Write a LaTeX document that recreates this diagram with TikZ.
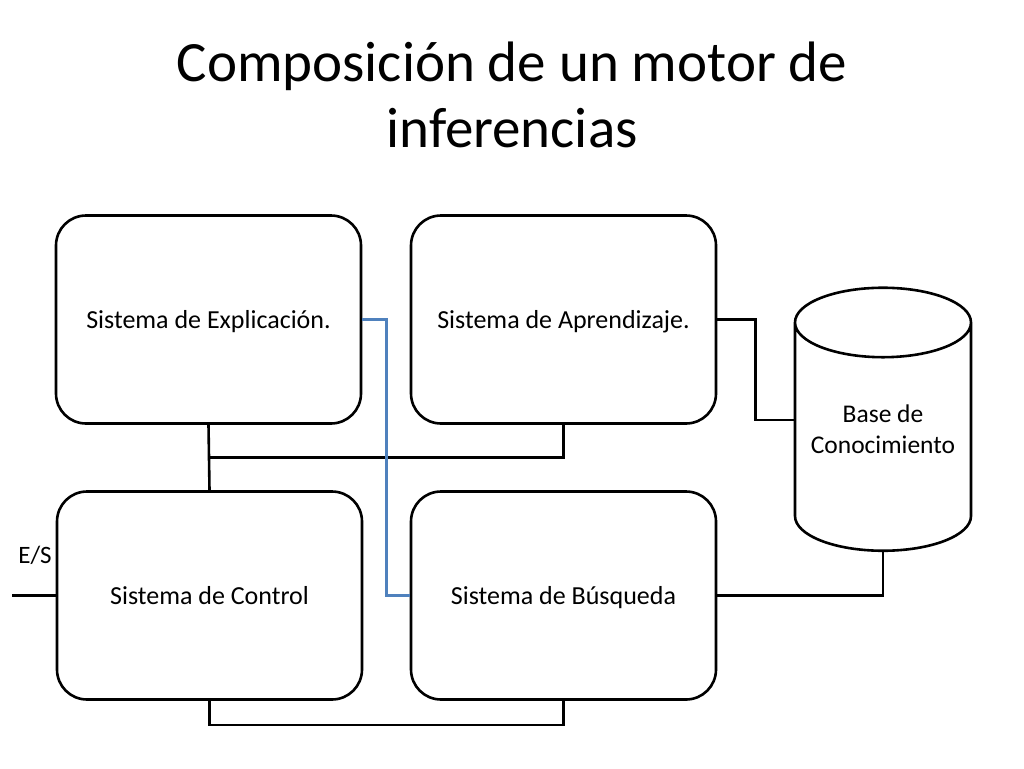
\documentclass[tikz,border=0pt]{standalone}
\usepackage{fontspec}
\setmainfont{Carlito}
\usetikzlibrary{shapes.geometric, calc}
\definecolor{linkblue}{RGB}{79,129,189}

\tikzset{
    bloque/.style={draw, line width=2.6pt, rounded corners=30pt, minimum width=305pt, minimum height=208pt, text height=20pt, text depth=2pt, font=\fontsize{26}{31}\selectfont},
    enlace/.style={line width=2.6pt}
}

\begin{document}
\begin{tikzpicture}[x=1pt, y=-1pt]
    \useasboundingbox (0,0) rectangle (1024,768);
    \node[font=\fontsize{57}{66}\selectfont, align=center] (titulo) at (512,95) {Composición de un motor de\\inferencias};

    \node[bloque] (expl) at (208.5,319.5) {Sistema de Explicación.};
    \node[bloque] (apre) at (563.5,319.5) {Sistema de Aprendizaje.};
    \node[bloque] (ctrl) at (209.5,595.5) {Sistema de Control};
    \node[bloque] (busq) at (563.5,595.5) {Sistema de Búsqueda};
    % cilindro de la base
    \node[draw, line width=2.6pt, cylinder, shape border rotate=90, aspect=0.46, minimum width=176pt, minimum height=263pt, font=\fontsize{25.5}{31}\selectfont] (base) at (883,442) {\raisebox{10.5pt}[\height][\depth]{\begin{tabular}{@{}c@{}}Base de\\Conocimiento\end{tabular}}};

    \coordinate (es) at (12,595.5);
    \node[font=\fontsize{25}{30}\selectfont] (eslabel) at (35,555) {E/S};

    \draw[enlace] (es) -- (ctrl.west);
    \draw[enlace] (expl.south) -- (ctrl.north);
    \draw[enlace] (apre.south) |- ($(expl.south)!0.5!(ctrl.north)$);
    \draw[enlace] (ctrl.south) -- ++(0,24) -| (busq.south);
    \draw[enlace] (apre.east) -- ++(38,0) |- ($(base.west)+(0,-22)$);
    \draw[enlace] (busq.east) -| (base.south);
    \draw[line width=2.4pt, linkblue] (expl.east) -- ++(24,0) |- (busq.west);
\end{tikzpicture}
\end{document}
